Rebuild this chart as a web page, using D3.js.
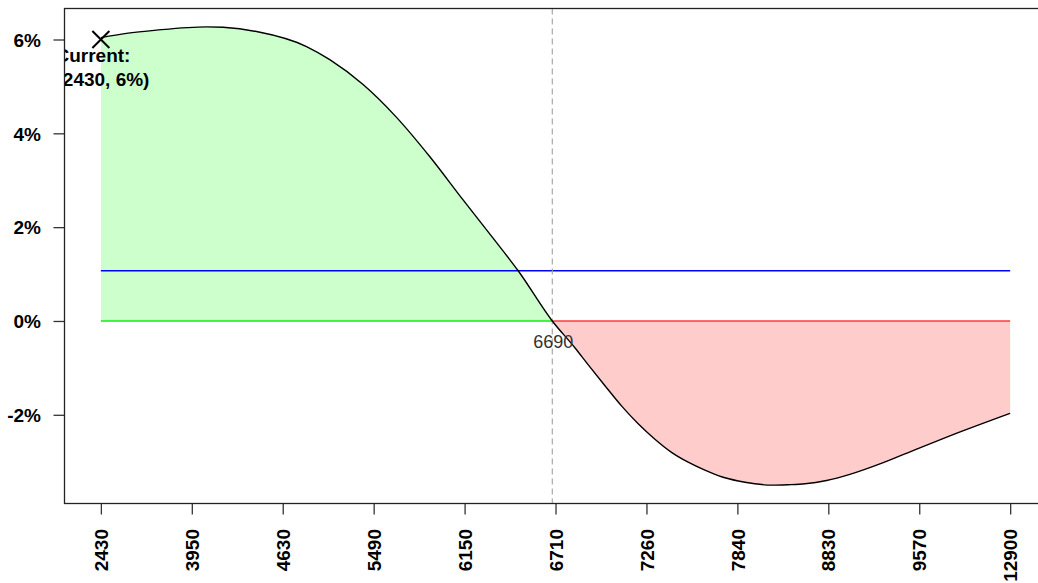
<!DOCTYPE html>
<html>
<head>
<meta charset="utf-8">
<script src="https://cdn.jsdelivr.net/npm/d3@7"></script>
<style>
  html, body { margin: 0; padding: 0; background: #fff; }
  svg { display: block; font-family: "Liberation Sans", Arial, sans-serif; }
</style>
</head>
<body>
<svg id="chart" width="1038" height="583"></svg>
<script>
// ---- data ----
const tickPrices = [2430, 3950, 4630, 5490, 6150, 6710, 7260, 7840, 8830, 9570, 12900];
const yTicks = [-2, 0, 2, 4, 6];
const prices = [2430, 2856, 3360, 4060, 4185, 4434, 4855, 5075, 5390, 5656, 5898, 6139, 6347, 6480, 6690,
                6827, 6907, 7009, 7109, 7210, 7314, 7420, 7526, 7633, 7739, 7849, 8030, 8212, 8393, 8576,
                8811, 9005, 9277, 9549, 10692, 12900];
const returns = [6.04, 6.13, 6.20, 6.27, 6.26, 6.17, 5.85, 5.57, 5.04, 4.34, 3.50, 2.58, 1.67, 1.07, 0.00,
                 -0.57, -0.93, -1.38, -1.81, -2.19, -2.52, -2.80, -3.01, -3.18, -3.32, -3.41, -3.47, -3.50, -3.49, -3.47,
                 -3.40, -3.27, -3.02, -2.73, -2.45, -1.97];
const benchmark = [1.07];
const breakEven = [6690];
const current = [2430, 6.0];

// ---- layout ----
const svg = d3.select("#chart");
const L = 64.5, T = 8.5, B = 503.5;
const step = 90.93;
const R = L + 10.8 * step;

const x = d3.scaleLinear()
  .domain(tickPrices)
  .range(tickPrices.map((_, i) => L + (i + 0.4) * step));

const [mn, mx] = d3.extent(returns);
const pad = (mx - mn) * 0.04;
const y = d3.scaleLinear().domain([mn - pad, mx + pad]).range([B, T]);

const pts = prices.map((p, i) => ({ p, v: returns[i] }));

svg.append("defs").append("clipPath").attr("id", "plotclip")
  .append("rect").attr("x", L).attr("y", T).attr("width", R - L).attr("height", B - T);

const g = svg.append("g").attr("clip-path", "url(#plotclip)");

const curve = d3.curveMonotoneX;
const area = d3.area().x(d => x(d.p)).y0(y(0)).y1(d => y(d.v)).curve(curve);

g.append("path").datum(pts.filter(d => d.v >= 0))
  .attr("d", area).attr("fill", "#ccffcc");
g.append("path").datum(pts.filter(d => d.v <= 0))
  .attr("d", area).attr("fill", "#ffcccc");

// zero lines
const x0 = x(prices[0]), xb = x(breakEven[0]), x1 = x(prices[prices.length - 1]);
g.append("line").attr("x1", x0).attr("x2", xb).attr("y1", y(0)).attr("y2", y(0))
  .attr("stroke", "#11ee11").attr("stroke-width", 1.6);
g.append("line").attr("x1", xb).attr("x2", x1).attr("y1", y(0)).attr("y2", y(0))
  .attr("stroke", "#ff3b3b").attr("stroke-width", 1.6);

// benchmark line
g.append("line").attr("x1", x0).attr("x2", x1)
  .attr("y1", y(benchmark[0])).attr("y2", y(benchmark[0]))
  .attr("stroke", "#0000ff").attr("stroke-width", 1.5);

// break-even dashed line
g.append("line").attr("x1", xb).attr("x2", xb).attr("y1", T).attr("y2", B)
  .attr("stroke", "#a0a0a0").attr("stroke-width", 1.1).attr("stroke-dasharray", "6,4");

// curve
const line = d3.line().x(d => x(d.p)).y(d => y(d.v)).curve(curve);
g.append("path").datum(pts).attr("d", line)
  .attr("fill", "none").attr("stroke", "#000").attr("stroke-width", 1.4);

// break-even label
g.append("text").attr("x", xb + 1).attr("y", 348).attr("text-anchor", "middle")
  .attr("font-size", 18).attr("fill", "#333").text(breakEven[0]);

// current marker
const cx = x(current[0]), cy = y(current[1]);
const s = 8.5;
g.append("path")
  .attr("d", `M${cx - s},${cy - s}L${cx + s},${cy + s}M${cx - s},${cy + s}L${cx + s},${cy - s}`)
  .attr("stroke", "#000").attr("stroke-width", 2).attr("fill", "none");

const lbl = g.append("text").attr("font-size", 19).attr("font-weight", "bold").attr("fill", "#000");
lbl.append("tspan").attr("x", 55.5).attr("y", 62).text("Current:");
lbl.append("tspan").attr("x", 56.5).attr("y", 86).text(`(${current[0]}, ${current[1]}%)`);

// axes
const xAxis = d3.axisBottom(x).tickValues(tickPrices).tickSize(11).tickFormat(d3.format("d"));
const gx = svg.append("g").attr("transform", `translate(0,${B})`).call(xAxis);
gx.select(".domain").remove();
gx.selectAll(".tick line").attr("stroke", "#333").attr("stroke-width", 1.3);
gx.selectAll(".tick text")
  .attr("font-size", 19).attr("font-weight", "bold").attr("fill", "#000")
  .attr("font-family", "Liberation Sans, Arial, sans-serif")
  .attr("text-anchor", "end")
  .attr("transform", "rotate(-90)")
  .attr("x", -25.5).attr("y", 0).attr("dy", "0.35em");

const yAxis = d3.axisLeft(y).tickValues(yTicks).tickSize(11).tickFormat(d => d + "%");
const gy = svg.append("g").attr("transform", `translate(${L},0)`).call(yAxis);
gy.select(".domain").remove();
gy.selectAll(".tick line").attr("stroke", "#333").attr("stroke-width", 1.3);
gy.selectAll(".tick text")
  .attr("font-size", 19).attr("font-weight", "bold").attr("fill", "#000")
  .attr("font-family", "Liberation Sans, Arial, sans-serif")
  .attr("x", -23.5).attr("dy", "0.36em");

// box
svg.append("rect").attr("x", L).attr("y", T).attr("width", R - L).attr("height", B - T)
  .attr("fill", "none").attr("stroke", "#222").attr("stroke-width", 1.3);
</script>
</body>
</html>
